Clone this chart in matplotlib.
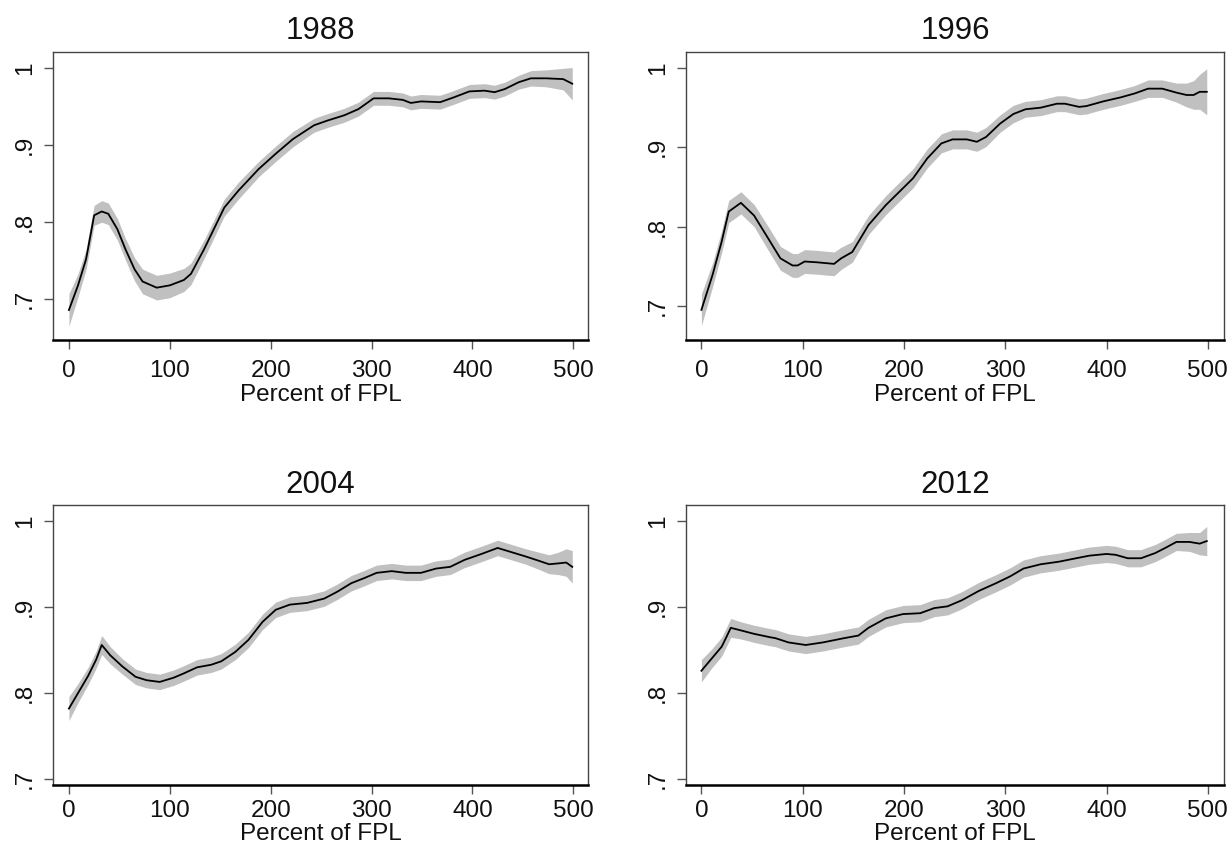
import matplotlib
matplotlib.use("Agg")
import matplotlib.pyplot as plt
import numpy as np

plt.rcParams['font.family'] = ['Liberation Sans', 'DejaVu Sans']

# ---------------- data ----------------
titles = ["1988", "1996", "2004", "2012"]
xlabel_text = "Percent of FPL"
xticks = [0, 100, 200, 300, 400, 500]
yticks = [0.7, 0.8, 0.9, 1.0]
ytick_labels = [".7", ".8", ".9", "1"]

x88 = [0, 9, 17, 25, 32.5, 39, 48, 56, 65, 73,
       87, 100, 114, 121, 134, 154, 168, 188, 205, 222,
       243, 256, 273, 287, 302, 317, 331, 339, 349, 368,
       381, 397, 412, 422, 432, 446, 458, 473, 490, 499]
y88 = [0.686, 0.718, 0.752, 0.809, 0.814, 0.811, 0.791, 0.765, 0.739, 0.723,
       0.715, 0.718, 0.725, 0.733, 0.765, 0.819, 0.841, 0.869, 0.889, 0.908,
       0.926, 0.932, 0.939, 0.947, 0.961, 0.961, 0.959, 0.955, 0.957, 0.956,
       0.962, 0.970, 0.971, 0.969, 0.973, 0.982, 0.987, 0.987, 0.986, 0.980]
hw88 = [0.021, 0.015, 0.013, 0.013, 0.014, 0.014, 0.014, 0.014, 0.015, 0.016,
        0.016, 0.016, 0.015, 0.014, 0.012, 0.011, 0.011, 0.010, 0.010, 0.010,
        0.009, 0.009, 0.009, 0.009, 0.009, 0.009, 0.009, 0.009, 0.009, 0.009,
        0.009, 0.009, 0.009, 0.009, 0.009, 0.009, 0.010, 0.011, 0.014, 0.021]

x96 = [0, 11, 20, 27, 39, 52, 66, 78, 90, 95,
       102, 114, 131, 138, 149, 165, 182, 209, 223, 237,
       248, 262, 272, 281, 295, 308, 320, 335, 351, 359,
       373, 380, 397, 414, 428, 441, 455, 469, 479, 486,
       492, 499]
y96 = [0.695, 0.739, 0.781, 0.819, 0.830, 0.814, 0.785, 0.760, 0.751, 0.751,
       0.756, 0.755, 0.753, 0.760, 0.768, 0.802, 0.827, 0.861, 0.886, 0.905,
       0.910, 0.910, 0.907, 0.913, 0.930, 0.942, 0.948, 0.950, 0.955, 0.955,
       0.951, 0.952, 0.958, 0.963, 0.968, 0.974, 0.974, 0.969, 0.966, 0.966,
       0.970, 0.970]
hw96 = [0.020, 0.015, 0.014, 0.014, 0.014, 0.014, 0.015, 0.015, 0.015, 0.015,
        0.015, 0.015, 0.015, 0.014, 0.013, 0.012, 0.012, 0.012, 0.012, 0.012,
        0.012, 0.012, 0.012, 0.012, 0.011, 0.011, 0.010, 0.010, 0.010, 0.010,
        0.010, 0.010, 0.010, 0.010, 0.010, 0.011, 0.011, 0.012, 0.015, 0.018,
        0.022, 0.029]

x04 = [0, 9, 19, 27, 32.5, 41, 53, 66, 77, 90,
       104, 114, 127, 141, 151, 165, 178, 192, 205, 219,
       236, 253, 266, 280, 293, 305, 320, 334, 349, 364,
       378, 392, 409, 425, 439, 453, 466, 476, 485, 493,
       499]
y04 = [0.782, 0.800, 0.820, 0.839, 0.856, 0.844, 0.831, 0.819, 0.815, 0.813,
       0.818, 0.823, 0.830, 0.833, 0.837, 0.848, 0.862, 0.883, 0.897, 0.903,
       0.905, 0.910, 0.918, 0.928, 0.934, 0.940, 0.942, 0.940, 0.940, 0.945,
       0.947, 0.955, 0.962, 0.969, 0.964, 0.959, 0.954, 0.950, 0.951, 0.952,
       0.947]
hw04 = [0.014, 0.011, 0.010, 0.010, 0.011, 0.010, 0.009, 0.009, 0.009, 0.009,
        0.009, 0.009, 0.009, 0.009, 0.009, 0.009, 0.009, 0.009, 0.009, 0.009,
        0.009, 0.009, 0.009, 0.009, 0.009, 0.009, 0.009, 0.009, 0.009, 0.009,
        0.009, 0.009, 0.009, 0.009, 0.009, 0.009, 0.010, 0.011, 0.013, 0.016,
        0.019]

x12 = [0, 10, 20, 25, 29, 39, 52, 68, 73, 86,
       103, 120, 141, 155, 165, 182, 199, 216, 230, 243,
       257, 274, 291, 305, 318, 335, 353, 370, 383, 400,
       409, 421, 434, 448, 458, 469, 482, 492, 499]
y12 = [0.826, 0.840, 0.854, 0.866, 0.876, 0.873, 0.869, 0.865, 0.864, 0.859,
       0.856, 0.859, 0.864, 0.867, 0.876, 0.887, 0.892, 0.893, 0.899, 0.901,
       0.908, 0.919, 0.928, 0.936, 0.945, 0.950, 0.953, 0.957, 0.960, 0.962,
       0.961, 0.957, 0.957, 0.963, 0.969, 0.976, 0.976, 0.974, 0.977]
hw12 = [0.013, 0.011, 0.011, 0.011, 0.011, 0.010, 0.010, 0.010, 0.010, 0.010,
        0.010, 0.010, 0.010, 0.010, 0.010, 0.010, 0.010, 0.010, 0.010, 0.010,
        0.010, 0.010, 0.010, 0.010, 0.010, 0.010, 0.010, 0.010, 0.010, 0.010,
        0.010, 0.010, 0.010, 0.010, 0.010, 0.010, 0.011, 0.013, 0.017]

series = [(x88, y88, hw88), (x96, y96, hw96), (x04, y04, hw04), (x12, y12, hw12)]

# ---------------- layout ----------------
W, H = 1228, 858
fig = plt.figure(figsize=(W / 100, H / 100), dpi=100)
fig.patch.set_facecolor("white")

# axes boxes in pixels: (left, top, right, bottom)
boxes = [(53.3, 51.7, 587.7, 340.0),
         (686.0, 51.7, 1224.0, 340.0),
         (53.3, 505.0, 587.7, 785.0),
         (686.0, 505.0, 1224.0, 785.0)]
ylims = [(0.647, 1.0216), (0.657, 1.0206), (0.693, 1.019), (0.693, 1.019)]
xlims = [(-15.5, 514.3), (-15.2, 516.0), (-15.5, 514.3), (-15.2, 516.0)]
xpads = [8, 8, 4.5, 4.5]
labelpads = [1, 1, 0.3, 0.3]

for i, (title, (xs, ys, hw)) in enumerate(zip(titles, series)):
    l, t, r, b = boxes[i]
    ax = fig.add_axes([l / W, 1 - b / H, (r - l) / W, (b - t) / H])
    xs_a = np.array(xs)
    ys_a = np.array(ys)
    hw_a = np.array(hw)
    ax.fill_between(xs_a, ys_a - hw_a, ys_a + hw_a, color="#c0c0c0",
                    linewidth=0, zorder=1)
    ax.plot(xs_a, ys_a, color="black", linewidth=1.3, zorder=2,
            solid_joinstyle="round")

    ax.set_xlim(*xlims[i])
    ax.set_ylim(*ylims[i])
    ax.set_xticks(xticks)
    ax.set_xticklabels([str(v) for v in xticks])
    ax.set_yticks(yticks)
    ax.set_yticklabels(ytick_labels, rotation=90, va="center")
    ax.tick_params(axis="both", direction="out", length=6.5, width=1,
                   color="#555555", labelsize=17.5, labelcolor="#111111")
    ax.tick_params(axis="x", pad=xpads[i])
    ax.tick_params(axis="y", pad=6)
    for side in ["left", "top", "right"]:
        ax.spines[side].set_color("#444444")
        ax.spines[side].set_linewidth(1.0)
    ax.spines["bottom"].set_color("black")
    ax.spines["bottom"].set_linewidth(1.8)

    ax.set_title(title, fontsize=22.5, pad=9, color="#111111")
    ax.set_xlabel(xlabel_text, fontsize=17.5, labelpad=labelpads[i],
                  color="#111111")

fig.savefig("out.png", dpi=100, facecolor="white")
